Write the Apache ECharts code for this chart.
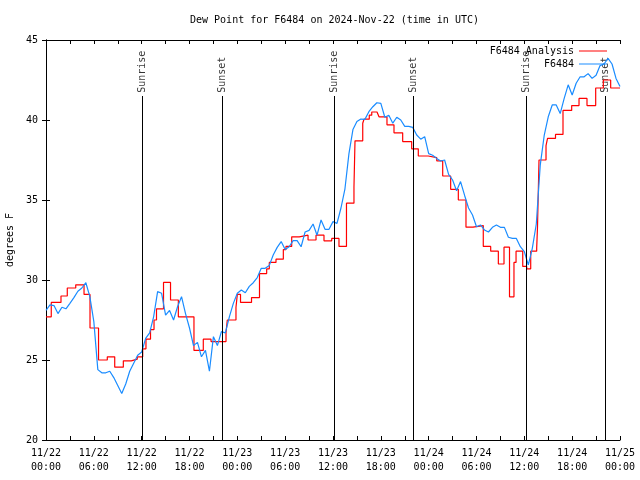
<!DOCTYPE html>
<html><head><meta charset="utf-8">
<script src="https://cdn.jsdelivr.net/npm/echarts@6/dist/echarts.min.js"></script>
<style>html,body{margin:0;padding:0;background:#fff}#c{width:640px;height:480px}</style>
</head><body><div id="c"></div>
<script>
const titleText = 'Dew Point for F6484 on 2024-Nov-22 (time in UTC)';
const yAxisName = 'degrees F';
const xTickLabels = ['11/22\n00:00','11/22\n06:00','11/22\n12:00','11/22\n18:00','11/23\n00:00','11/23\n06:00','11/23\n12:00','11/23\n18:00','11/24\n00:00','11/24\n06:00','11/24\n12:00','11/24\n18:00','11/25\n00:00'];
const seriesNames = ['F6484 Analysis', 'F6484'];
const sunTimes = [12.04, 22.08, 36.13, 46.04, 60.21, 70.12];
const sunNames = ['Sunrise','Sunset','Sunrise','Sunset','Sunrise','Sunset'];

// Analysis (step) – hours since 11/22 00:00 UTC, value holds until next time
const analysisTimes = [0,0.66,1.88,2.67,3.73,4.77,5.52,6.59,7.69,8.62,9.70,10.70,11.45,12.13,12.54,13.11,13.55,13.86,14.74,15.62,16.60,18.56,19.73,20.70,22.58,22.74,23.83,24.00,24.40,25.78,26.78,27.68,28.01,28.85,29.77,30.10,30.82,31.77,32.87,33.87,34.87,35.84,36.75,37.69,38.63,38.76,39.73,39.89,40.55,40.86,41.52,41.77,42.77,43.65,44.74,45.87,46.70,47.95,49.01,49.76,50.76,51.72,52.68,53.56,54.85,55.78,56.74,57.45,58.14,58.70,58.96,59.80,60.30,60.80,61.55,61.65,61.84,62.72,62.91,63.91,64.85,65.94,66.86,67.86,68.95,69.91,70.83,72];
const analysisValues = [27.7,28.6,29.0,29.5,29.7,29.1,27.0,25.0,25.2,24.55,24.95,25.05,25.2,25.7,26.3,26.9,27.5,28.2,29.85,28.75,27.7,25.6,26.3,26.15,26.7,27.5,28.3,29.1,28.6,28.9,30.4,30.7,31.1,31.3,31.9,32.1,32.7,32.8,32.5,32.8,32.45,32.6,32.1,34.8,35.8,38.7,39.8,40.05,40.3,40.5,40.4,40.2,39.7,39.2,38.65,38.2,37.75,37.65,37.45,36.5,35.67,35.0,33.3,33.4,32.1,31.8,31.0,32.05,28.95,31.1,31.8,30.85,30.7,31.8,32.0,33.3,37.5,38.4,38.85,39.1,40.6,40.9,41.35,40.9,42.0,42.5,42.0,42.0];

// Observations – every 0.5 h from 11/22 00:00 UTC
const obsStepHours = 0.5;
const obsValues = [28.1,28.44,28.4,27.9,28.3,28.2,28.54,28.9,29.3,29.5,29.83,28.96,27.4,24.4,24.2,24.2,24.3,23.9,23.4,22.9,23.5,24.3,24.8,25.3,25.5,26.35,26.7,27.7,29.27,29.17,27.8,28.1,27.5,28.33,28.96,27.9,27.0,25.9,26.1,25.2,25.6,24.3,26.46,25.9,26.77,26.7,27.7,28.54,29.17,29.37,29.2,29.6,29.83,30.15,30.73,30.73,30.9,31.56,32.04,32.4,31.9,32.08,32.46,32.46,32.08,33.0,33.1,33.5,32.8,33.75,33.17,33.17,33.65,33.54,34.5,35.7,37.9,39.4,39.9,40.06,40.04,40.52,40.83,41.08,41.04,40.17,40.3,39.8,40.17,40.0,39.6,39.6,39.54,39.06,38.8,38.96,37.9,37.8,37.6,37.44,37.5,36.6,36.25,35.58,36.15,35.3,34.5,34.06,33.33,33.44,33.13,33.0,33.29,33.44,33.29,33.29,32.67,32.6,32.6,32.08,31.77,30.94,31.98,33.5,37.2,39.06,40.2,40.94,40.94,40.4,41.35,42.2,41.56,42.3,42.7,42.7,42.9,42.6,42.8,43.4,43.5,43.85,43.5,42.6,42.1];

const FONT = 'DejaVu Sans Mono';
const sunLineTop = 41.5, sunLabelBase = 41.7;

const chart = echarts.init(document.getElementById('c'), null, {renderer:'canvas'});
const axisCommon = {
  type:'value', axisLine:{show:true, lineStyle:{color:'#000', width:1}},
  axisTick:{show:true, inside:true, length:4, lineStyle:{color:'#000'}},
  splitLine:{show:false}
};
const option = {
  animation:false,
  backgroundColor:'#fff',
  title:{text:titleText, left:185, top:10, textStyle:{fontFamily:FONT, fontSize:10, fontWeight:'normal', color:'#000'}},
  legend:[
    {data:[seriesNames[0]], right:28, top:41, align:'right', icon:'rect', itemWidth:28, itemHeight:1,
     textStyle:{fontFamily:FONT, fontSize:10, color:'#000'}},
    {data:[seriesNames[1]], right:28, top:54, align:'right', icon:'rect', itemWidth:28, itemHeight:1,
     textStyle:{fontFamily:FONT, fontSize:10, color:'#000'}}
  ],
  grid:{left:46, right:20, top:40, bottom:40, containLabel:false, outerBoundsMode:'none'},
  xAxis:[
    Object.assign({}, axisCommon, {min:0, max:72, interval:3, position:'bottom',
      axisLabel:{fontFamily:FONT, fontSize:10, color:'#000', margin:6, lineHeight:14,
        formatter:v => (v % 6 === 0 ? xTickLabels[v/6] : '')}}),
    Object.assign({}, axisCommon, {min:0, max:72, interval:3, position:'top', axisLabel:{show:false}})
  ],
  yAxis:[
    Object.assign({}, axisCommon, {min:20, max:45, interval:5, position:'left',
      name:yAxisName, nameLocation:'middle', nameGap:31, nameRotate:90,
      nameTextStyle:{fontFamily:FONT, fontSize:10, color:'#000'},
      axisLabel:{fontFamily:FONT, fontSize:10, color:'#000', margin:8}}),
    Object.assign({}, axisCommon, {min:20, max:45, interval:5, position:'right', axisLabel:{show:false}})
  ],
  series:[
    {name:'sun', type:'scatter', xAxisIndex:0, yAxisIndex:0, symbolSize:1, silent:true,
     itemStyle:{color:'rgba(0,0,0,0)'},
     data: sunTimes.map((t,i)=>[t, sunLabelBase, sunNames[i]]),
     label:{show:true, position:'inside', rotate:90, align:'left', verticalAlign:'middle',
       fontFamily:FONT, fontSize:10, color:'#000', formatter:p=>p.value[2]},
     markLine:{silent:true, symbol:'none', label:{show:false}, lineStyle:{color:'#000', width:1, type:'solid'},
       data: sunTimes.map(t=>[{coord:[t,20]},{coord:[t,sunLineTop]}])}
    },
    {name:seriesNames[0], type:'line', step:'end', showSymbol:false, color:'#ff0000',
     lineStyle:{width:1.2, color:'#ff0000'},
     data: analysisTimes.map((t,i)=>[t, analysisValues[i]])},
    {name:seriesNames[1], type:'line', showSymbol:false, color:'#1a8cff',
     lineStyle:{width:1.2, color:'#1a8cff'},
     data: obsValues.map((v,i)=>[i*obsStepHours, v])}
  ]
};
chart.setOption(option);
</script></body></html>
